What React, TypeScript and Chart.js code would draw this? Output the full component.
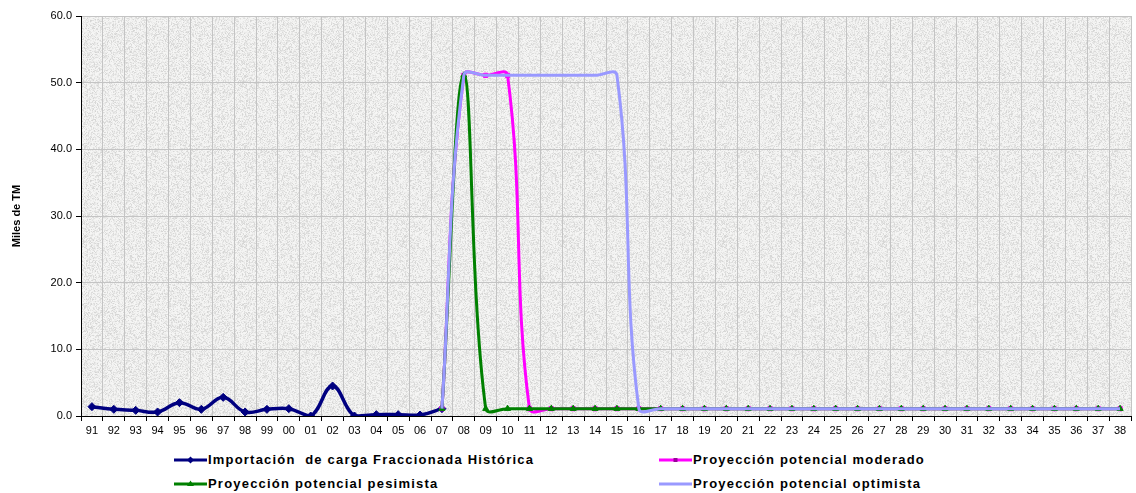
import React, { useEffect, useRef } from "react";
import { Chart, registerables } from "chart.js";

Chart.register(...registerables);

const years = [
  "91", "92", "93", "94", "95", "96", "97", "98", "99", "00",
  "01", "02", "03", "04", "05", "06", "07", "08", "09", "10",
  "11", "12", "13", "14", "15", "16", "17", "18", "19", "20",
  "21", "22", "23", "24", "25", "26", "27", "28", "29", "30",
  "31", "32", "33", "34", "35", "36", "37", "38",
];

const yTicks = [0, 10, 20, 30, 40, 50, 60];

// Importación de carga Fraccionada Histórica (91..07)
const historica = [
  1.4, 1.0, 0.85, 0.6, 2.0, 1.0, 2.8, 0.6, 1.0, 1.1,
  0.0, 4.5, 0.0, 0.2, 0.2, 0.15, 1.1, null, null, null,
  null, null, null, null, null, null, null, null, null, null,
  null, null, null, null, null, null, null, null, null, null,
  null, null, null, null, null, null, null, null,
];

const moderado = [
  null, null, null, null, null, null, null, null, null, null,
  null, null, null, null, null, null, 1.1, 51.1, 51.1, 51.1,
  1.1, 1.1, 1.1, 1.1, 1.1, 1.1, 1.1, 1.1, 1.1, 1.1,
  1.1, 1.1, 1.1, 1.1, 1.1, 1.1, 1.1, 1.1, 1.1, 1.1,
  1.1, 1.1, 1.1, 1.1, 1.1, 1.1, 1.1, 1.1,
];

const pesimista = [
  null, null, null, null, null, null, null, null, null, null,
  null, null, null, null, null, null, 1.1, 51.1, 1.1, 1.1,
  1.1, 1.1, 1.1, 1.1, 1.1, 1.1, 1.1, 1.1, 1.1, 1.1,
  1.1, 1.1, 1.1, 1.1, 1.1, 1.1, 1.1, 1.1, 1.1, 1.1,
  1.1, 1.1, 1.1, 1.1, 1.1, 1.1, 1.1, 1.1,
];

const optimista = [
  null, null, null, null, null, null, null, null, null, null,
  null, null, null, null, null, null, 1.1, 51.1, 51.1, 51.1,
  51.1, 51.1, 51.1, 51.1, 51.1, 1.1, 1.1, 1.1, 1.1, 1.1,
  1.1, 1.1, 1.1, 1.1, 1.1, 1.1, 1.1, 1.1, 1.1, 1.1,
  1.1, 1.1, 1.1, 1.1, 1.1, 1.1, 1.1, 1.1,
];

const seriesNames = [
  "Importación  de carga Fraccionada Histórica",
  "Proyección potencial moderado",
  "Proyección potencial pesimista",
  "Proyección potencial optimista",
];

const NAVY = "#000080";
const MAGENTA = "#FF00FF";
const GREEN = "#008000";
const LAVENDER = "#9999FF";
const GRID = "#c4c4c4";
const FONT = "'Liberation Sans', Arial, sans-serif";

// deterministic granite-like texture for the plot background
function makeTexture(): HTMLCanvasElement {
  const size = 160;
  const c = document.createElement("canvas");
  c.width = size;
  c.height = size;
  const g = c.getContext("2d")!;
  const img = g.createImageData(size, size);
  for (let y = 0; y < size; y++) {
    for (let x = 0; x < size; x++) {
      const s = Math.sin(x * 12.9898 + y * 78.233) * 43758.5453;
      const h = s - Math.floor(s);
      const v = Math.round(246 - 34 * h * h);
      const i = (y * size + x) * 4;
      img.data[i] = v;
      img.data[i + 1] = v;
      img.data[i + 2] = v - 1;
      img.data[i + 3] = 255;
    }
  }
  g.putImageData(img, 0, 0);
  return c;
}

const plotBg = {
  id: "plotBg",
  beforeDraw(chart: any) {
    const { ctx, chartArea: a } = chart;
    ctx.save();
    if (!chart.$tex) chart.$tex = ctx.createPattern(makeTexture(), "repeat");
    ctx.fillStyle = chart.$tex || "#e9e9e7";
    ctx.fillRect(a.left, a.top, a.right - a.left, a.bottom - a.top);
    ctx.restore();
  },
};

function LegendMark({ color, marker }: { color: string; marker: string }) {
  return (
    <svg width={33} height={10} style={{ display: "block" }}>
      <line x1={0} y1={5} x2={33} y2={5} stroke={color} strokeWidth={3} />
      {marker === "diamond" && (
        <polygon points="16.5,1.5 20,5 16.5,8.5 13,5" fill={color} />
      )}
      {marker === "square" && <rect x={14.5} y={3} width={4} height={4} fill="#990099" />}
      {marker === "triangle" && <polygon points="16.5,1.5 20,7 13,7" fill={color} />}
    </svg>
  );
}

function LegendItem({ left, cy, color, marker, text }: any) {
  return (
    <div
      style={{
        position: "absolute",
        left,
        top: cy - 8,
        height: 16,
        display: "flex",
        alignItems: "center",
        whiteSpace: "pre",
      }}
    >
      <LegendMark color={color} marker={marker} />
      <span
        style={{
          marginLeft: 1,
          fontFamily: FONT,
          fontWeight: "bold",
          fontSize: 13,
          letterSpacing: "1.2px",
          color: "#000",
          lineHeight: "16px",
        }}
      >
        {text}
      </span>
    </div>
  );
}

export default function App() {
  const ref = useRef<HTMLCanvasElement>(null);

  useEffect(() => {
    if (!ref.current) return;
    const chart = new Chart(ref.current, {
      type: "line",
      data: {
        labels: years,
        datasets: [
          {
            label: seriesNames[0],
            data: historica,
            borderColor: NAVY,
            backgroundColor: NAVY,
            borderWidth: 3.5,
            pointStyle: "rectRot",
            pointRadius: 4,
            pointBorderWidth: 1,
            tension: 0.4,
            order: 3,
          },
          {
            label: seriesNames[1],
            data: moderado,
            borderColor: MAGENTA,
            backgroundColor: MAGENTA,
            pointBackgroundColor: MAGENTA,
            pointBorderColor: MAGENTA,
            borderWidth: 3,
            pointStyle: "rect",
            pointRadius: 3,
            pointBorderWidth: 1,
            tension: 0.4,
            order: 2,
          },
          {
            label: seriesNames[2],
            data: pesimista,
            borderColor: GREEN,
            backgroundColor: GREEN,
            borderWidth: 3,
            pointStyle: "triangle",
            pointRadius: 3.5,
            pointBorderWidth: 1,
            tension: 0.4,
            order: 1,
          },
          {
            label: seriesNames[3],
            data: optimista,
            borderColor: LAVENDER,
            backgroundColor: LAVENDER,
            borderWidth: 3,
            pointRadius: 0,
            tension: 0.4,
            order: 0,
          },
        ],
      },
      options: {
        animation: false,
        responsive: false,
        maintainAspectRatio: false,
        devicePixelRatio: 1,
        layout: { padding: { top: 16, right: 2, bottom: 0, left: 0 } },
        plugins: {
          legend: { display: false },
          tooltip: { enabled: false },
        },
        scales: {
          x: {
            type: "category",
            offset: true,
            grid: {
              offset: true,
              color: GRID,
              tickColor: "#000",
              tickLength: 5,
              lineWidth: 1,
            },
            border: { color: "#000", width: 1 },
            ticks: {
              color: "#000",
              font: { family: FONT, size: 11 },
              padding: 3,
              maxRotation: 0,
              autoSkip: false,
            },
            afterFit: (s: any) => {
              s.height = 29;
            },
          },
          y: {
            min: 0,
            max: 60,
            afterBuildTicks: (s: any) => {
              s.ticks = yTicks.map((v) => ({ value: v }));
            },
            ticks: {
              color: "#000",
              font: { family: FONT, size: 11 },
              padding: 4,
              callback: (v: any) => Number(v).toFixed(1),
            },
            grid: { color: GRID, tickColor: "#000", tickLength: 5 },
            border: { color: "#000", width: 1 },
            title: {
              display: true,
              text: "Miles de TM",
              color: "#000",
              font: { family: FONT, size: 11, weight: "bold" },
              padding: { top: 10, bottom: 0 },
            },
            afterFit: (s: any) => {
              s.width = 81;
            },
          },
        },
      },
      plugins: [plotBg],
    } as any);
    return () => chart.destroy();
  }, []);

  return (
    <div
      style={{
        position: "fixed",
        left: 0,
        top: 0,
        width: 1136,
        height: 493,
        background: "#fff",
        overflow: "hidden",
      }}
    >
      <canvas
        ref={ref}
        width={1136}
        height={445}
        style={{ position: "absolute", left: 0, top: 0, width: 1136, height: 445 }}
      />
      <LegendItem left={174} cy={460} color={NAVY} marker="diamond" text={seriesNames[0]} />
      <LegendItem left={659} cy={460} color={MAGENTA} marker="square" text={seriesNames[1]} />
      <LegendItem left={174} cy={484} color={GREEN} marker="triangle" text={seriesNames[2]} />
      <LegendItem left={659} cy={484} color={LAVENDER} marker="none" text={seriesNames[3]} />
    </div>
  );
}
